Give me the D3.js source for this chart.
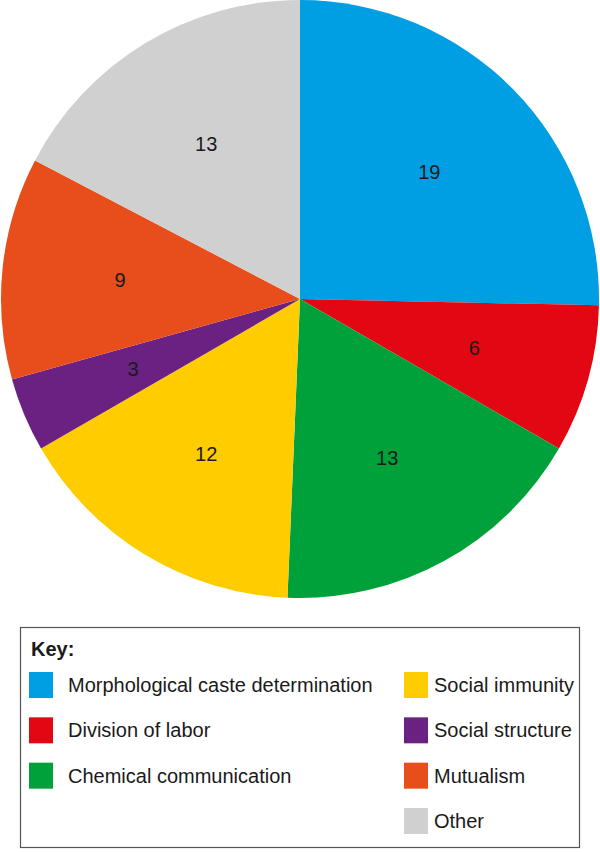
<!DOCTYPE html>
<html><head><meta charset="utf-8">
<script src="https://cdn.jsdelivr.net/npm/d3@7"></script>
<style>body{margin:0;background:#fff}svg{display:block}text{font-family:"Liberation Sans",Arial,Helvetica,sans-serif}</style>
</head><body>
<script>
const categories = ["Morphological caste determination","Division of labor","Chemical communication","Social immunity","Social structure","Mutualism","Other"];
const values = [19,6,13,12,3,9,13];
const colors = ["#009FE3","#E30613","#00A13A","#FFCC00","#6A2182","#E84E1B","#D0D0D1"];
const legendLeft = [0,1,2];
const legendRight = [3,4,5,6];

const W=600,H=852;
const svg=d3.select("body").append("svg").attr("width",W).attr("height",H);
const cx=300, cy=299, R=299;
const pie=d3.pie().sort(null).value(d=>d)(values);
const arc=d3.arc().innerRadius(0).outerRadius(R);
const labelArc=d3.arc().innerRadius(181).outerRadius(181);
const g=svg.append("g").attr("transform",`translate(${cx},${cy})`);
g.selectAll("path").data(pie).join("path").attr("d",arc).attr("fill",(d,i)=>colors[i]);
g.selectAll("text").data(pie).join("text")
  .attr("transform",d=>`translate(${labelArc.centroid(d)})`)
  .attr("text-anchor","middle").attr("dy","0.35em")
  .attr("font-size",20).attr("fill","#1a1a1a").text(d=>d.data);

// legend
const lg=svg.append("g");
lg.append("rect").attr("x",20.5).attr("y",627.5).attr("width",559).attr("height",220)
  .attr("fill","#fff").attr("stroke","#555").attr("stroke-width",1.2);
lg.append("text").attr("x",31).attr("y",649).attr("dy","0.35em").attr("font-size",20).attr("font-weight","bold").attr("fill","#1a1a1a").text("Key:");
const rowY=d3.scalePoint().domain([0,1,2,3]).range([685,821]);
function col(idx, sx, tx){
  idx.forEach((k,j)=>{
    const y=rowY(j);
    lg.append("rect").attr("x",sx).attr("y",y-13).attr("width",24).attr("height",26).attr("fill",colors[k]);
    lg.append("text").attr("x",tx).attr("y",y).attr("dy","0.35em").attr("font-size",20).attr("fill","#1a1a1a").text(categories[k]);
  });
}
col(legendLeft,29,68);
col(legendRight,404,434);
</script>
</body></html>
